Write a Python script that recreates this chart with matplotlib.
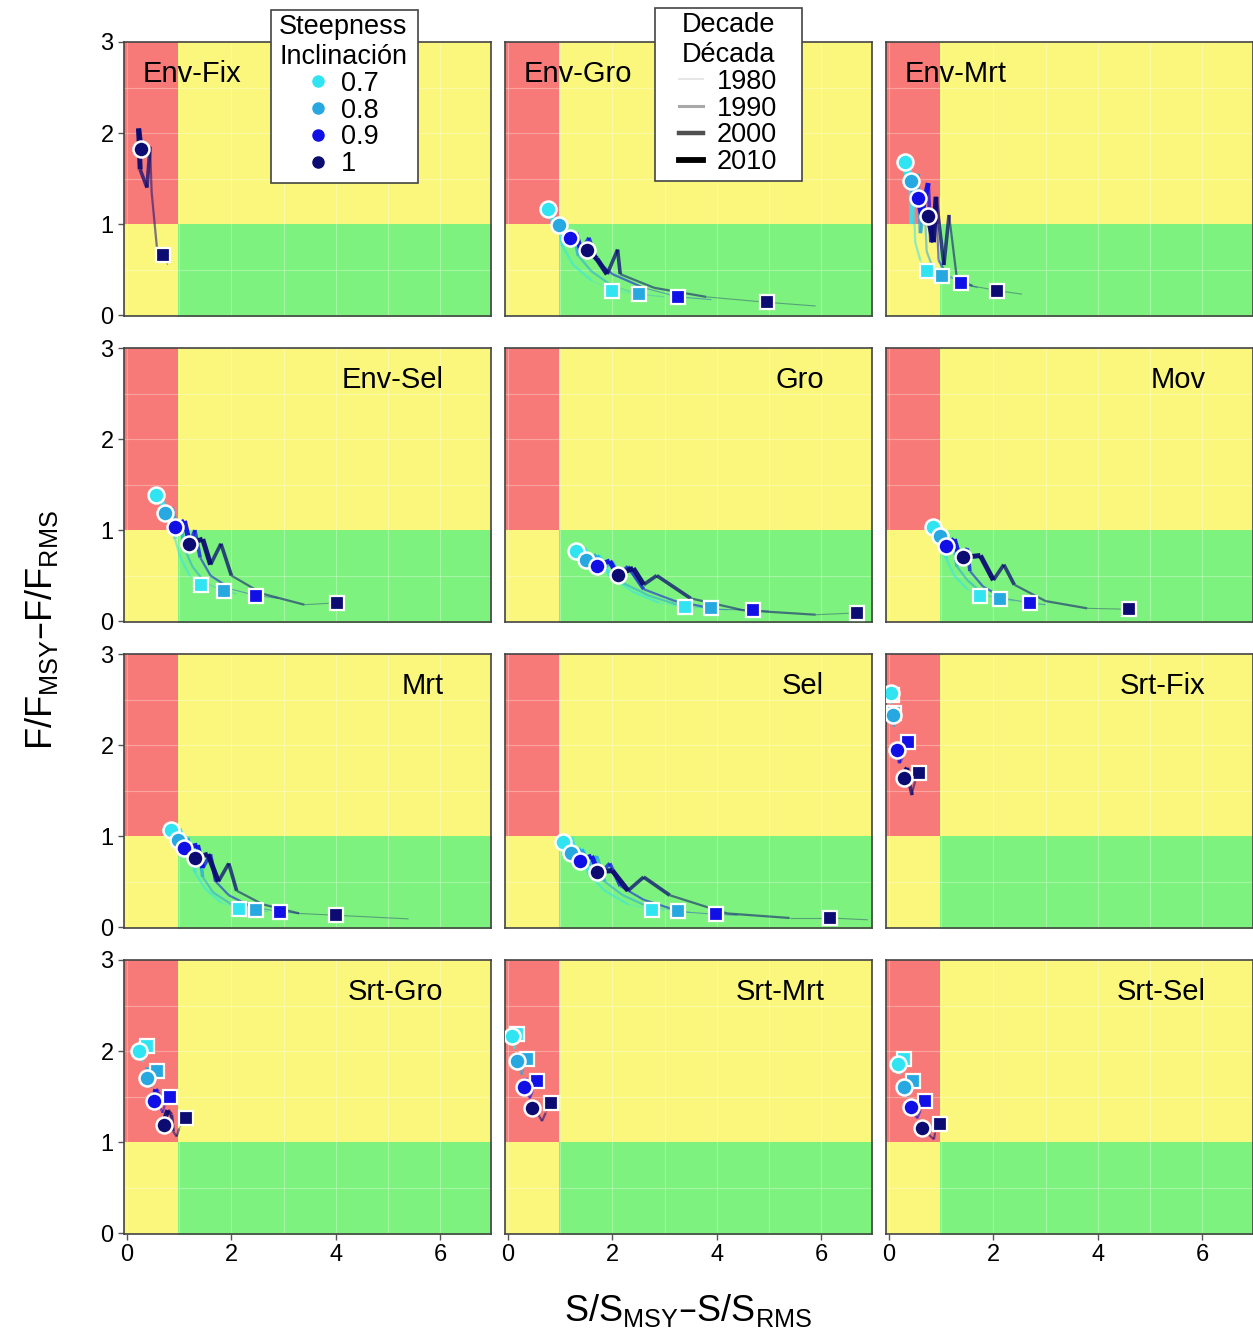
import matplotlib
matplotlib.use("Agg")
import matplotlib.pyplot as plt
from matplotlib.lines import Line2D
from matplotlib.patches import Rectangle

plt.rcParams["font.family"] = ["Liberation Sans", "DejaVu Sans"]
plt.rcParams["mathtext.default"] = "regular"

# categories
panels = ["Env-Fix", "Env-Gro", "Env-Mrt",
          "Env-Sel", "Gro", "Mov",
          "Mrt", "Sel", "Srt-Fix",
          "Srt-Gro", "Srt-Mrt", "Srt-Sel"]
steepness = ["0.7", "0.8", "0.9", "1"]
steep_colors = ["#30E4F2", "#28A8E0", "#1010E6", "#0B0B72"]
decades = ["1980", "1990", "2000", "2010"]
# decade of each of the 8 segments of a trajectory
seg_decade = [0, 0, 1, 1, 2, 2, 3, 3]

# trajectories (S/Smsy, F/Fmsy), one list per steepness 0.7, 0.8, 0.9, 1
# point 1 = square, last point = circle
env_fix_x = [[], [], [], [0.78, 0.69, 0.57, 0.47, 0.44, 0.38, 0.25, 0.22, 0.27]]
env_fix_y = [[], [], [], [0.55, 0.66, 0.75, 1.35, 1.85, 1.40, 1.60, 2.05, 1.82]]

env_gro_x = [[2.4, 2.0, 1.6, 1.25, 1.05, 0.98, 0.88, 0.82, 0.76],
             [3.0, 2.51, 2.0, 1.6, 1.35, 1.25, 1.12, 1.05, 0.97],
             [3.9, 3.26, 2.6, 2.0, 1.7, 1.55, 1.4, 1.3, 1.18],
             [5.9, 4.97, 3.8, 2.8, 2.15, 2.1, 1.9, 1.7, 1.52]]
env_gro_y = [[0.24, 0.27, 0.38, 0.55, 0.75, 1.0, 0.95, 1.2, 1.16],
             [0.20, 0.23, 0.32, 0.48, 0.65, 0.9, 0.85, 1.05, 0.99],
             [0.17, 0.20, 0.30, 0.45, 0.60, 0.85, 0.70, 0.90, 0.85],
             [0.10, 0.14, 0.20, 0.30, 0.45, 0.72, 0.45, 0.62, 0.71]]

env_mrt_x = [[0.9, 0.72, 0.6, 0.5, 0.47, 0.42, 0.4, 0.34, 0.30],
             [1.25, 1.01, 0.85, 0.72, 0.68, 0.6, 0.55, 0.48, 0.42],
             [1.7, 1.37, 1.1, 0.95, 0.9, 0.8, 0.75, 0.62, 0.55],
             [2.55, 2.06, 1.6, 1.3, 1.15, 1.05, 0.9, 0.85, 0.74]]
env_mrt_y = [[0.45, 0.48, 0.6, 0.8, 1.3, 1.0, 1.7, 1.5, 1.68],
             [0.40, 0.43, 0.5, 0.7, 1.2, 0.9, 1.55, 1.3, 1.47],
             [0.30, 0.35, 0.45, 0.6, 1.2, 0.8, 1.45, 1.1, 1.29],
             [0.23, 0.27, 0.32, 0.4, 1.1, 0.55, 1.3, 0.8, 1.09]]

env_sel_x = [[1.6, 1.41, 1.2, 1.02, 0.92, 0.85, 0.78, 0.65, 0.55],
             [2.1, 1.85, 1.5, 1.25, 1.1, 1.02, 0.95, 0.85, 0.72],
             [2.9, 2.48, 2.0, 1.6, 1.4, 1.3, 1.2, 1.1, 0.91],
             [4.1, 4.02, 3.4, 2.6, 2.0, 1.8, 1.6, 1.45, 1.18]]
env_sel_y = [[0.37, 0.40, 0.5, 0.7, 0.9, 1.2, 1.1, 1.35, 1.39],
             [0.30, 0.33, 0.42, 0.6, 0.8, 1.1, 1.0, 1.25, 1.19],
             [0.25, 0.28, 0.35, 0.5, 0.7, 1.0, 0.85, 1.1, 1.03],
             [0.19, 0.20, 0.18, 0.3, 0.5, 0.85, 0.62, 0.9, 0.85]]

gro_x = [[3.6, 3.39, 2.9, 2.4, 1.95, 1.75, 1.6, 1.45, 1.31],
         [4.2, 3.89, 3.3, 2.7, 2.2, 2.0, 1.8, 1.7, 1.50],
         [5.0, 4.69, 4.0, 3.2, 2.6, 2.3, 2.1, 1.95, 1.71],
         [6.75, 6.70, 5.9, 4.5, 3.5, 2.85, 2.6, 2.4, 2.10]]
gro_y = [[0.14, 0.15, 0.2, 0.32, 0.5, 0.72, 0.65, 0.8, 0.77],
         [0.12, 0.14, 0.17, 0.28, 0.42, 0.65, 0.57, 0.72, 0.67],
         [0.11, 0.12, 0.13, 0.22, 0.35, 0.6, 0.5, 0.66, 0.61],
         [0.08, 0.09, 0.07, 0.12, 0.25, 0.5, 0.4, 0.58, 0.51]]

mov_x = [[1.95, 1.75, 1.5, 1.25, 1.1, 1.05, 0.98, 0.9, 0.84],
         [2.4, 2.13, 1.8, 1.5, 1.3, 1.25, 1.15, 1.05, 0.97],
         [3.0, 2.70, 2.2, 1.8, 1.55, 1.5, 1.35, 1.25, 1.10],
         [4.7, 4.61, 3.8, 3.0, 2.4, 2.2, 2.0, 1.75, 1.41]]
mov_y = [[0.26, 0.28, 0.35, 0.5, 0.68, 0.9, 0.85, 1.05, 1.03],
         [0.22, 0.24, 0.3, 0.45, 0.6, 0.85, 0.8, 0.98, 0.94],
         [0.18, 0.20, 0.25, 0.38, 0.55, 0.8, 0.7, 0.9, 0.83],
         [0.12, 0.13, 0.14, 0.22, 0.4, 0.62, 0.45, 0.72, 0.70]]

mrt_x = [[2.35, 2.15, 1.8, 1.5, 1.3, 1.25, 1.12, 1.0, 0.84],
         [2.7, 2.48, 2.0, 1.65, 1.45, 1.38, 1.25, 1.15, 0.97],
         [3.3, 2.93, 2.4, 1.95, 1.7, 1.6, 1.45, 1.35, 1.10],
         [5.4, 4.0, 3.3, 2.6, 2.1, 1.95, 1.75, 1.55, 1.30]]
mrt_y = [[0.18, 0.20, 0.27, 0.42, 0.6, 0.9, 0.85, 1.08, 1.07],
         [0.17, 0.19, 0.25, 0.38, 0.55, 0.85, 0.75, 0.98, 0.96],
         [0.15, 0.17, 0.22, 0.35, 0.5, 0.8, 0.65, 0.9, 0.87],
         [0.09, 0.13, 0.15, 0.25, 0.4, 0.7, 0.5, 0.8, 0.76]]

sel_x = [[3.0, 2.76, 2.3, 1.85, 1.55, 1.45, 1.3, 1.2, 1.05],
         [3.5, 3.26, 2.7, 2.2, 1.85, 1.7, 1.55, 1.4, 1.20],
         [4.4, 3.98, 3.3, 2.6, 2.15, 1.95, 1.75, 1.6, 1.37],
         [6.9, 6.17, 5.4, 4.2, 3.1, 2.6, 2.3, 2.0, 1.71]]
sel_y = [[0.18, 0.19, 0.25, 0.4, 0.58, 0.85, 0.8, 0.98, 0.93],
         [0.16, 0.18, 0.22, 0.35, 0.5, 0.78, 0.68, 0.85, 0.81],
         [0.13, 0.14, 0.17, 0.3, 0.45, 0.7, 0.58, 0.78, 0.73],
         [0.08, 0.10, 0.10, 0.15, 0.35, 0.55, 0.4, 0.62, 0.61]]

srt_fix_x = [[0.08, 0.06, 0.05, 0.04, 0.05, 0.06, 0.05, 0.04, 0.04],
             [0.12, 0.10, 0.10, 0.09, 0.1, 0.1, 0.09, 0.08, 0.08],
             [0.38, 0.36, 0.3, 0.25, 0.2, 0.18, 0.17, 0.15, 0.15],
             [0.6, 0.57, 0.5, 0.45, 0.44, 0.4, 0.35, 0.3, 0.29]]
srt_fix_y = [[2.52, 2.55, 2.5, 2.45, 2.5, 2.58, 2.6, 2.55, 2.57],
             [2.32, 2.35, 2.28, 2.2, 2.25, 2.35, 2.38, 2.33, 2.33],
             [2.0, 2.03, 1.95, 1.85, 1.8, 1.9, 2.0, 1.98, 1.94],
             [1.66, 1.69, 1.6, 1.5, 1.45, 1.55, 1.75, 1.7, 1.64]]

srt_gro_x = [[0.4, 0.38, 0.33, 0.3, 0.27, 0.27, 0.25, 0.23, 0.23],
             [0.6, 0.57, 0.5, 0.46, 0.42, 0.42, 0.4, 0.38, 0.38],
             [0.85, 0.82, 0.72, 0.68, 0.62, 0.6, 0.55, 0.52, 0.51],
             [1.15, 1.12, 1.0, 0.95, 0.88, 0.85, 0.78, 0.72, 0.70]]
srt_gro_y = [[2.03, 2.06, 1.96, 1.88, 1.94, 2.07, 2.1, 2.04, 2.0],
             [1.75, 1.78, 1.68, 1.6, 1.66, 1.8, 1.82, 1.75, 1.70],
             [1.47, 1.50, 1.4, 1.32, 1.4, 1.55, 1.58, 1.5, 1.45],
             [1.22, 1.26, 1.15, 1.06, 1.12, 1.3, 1.35, 1.25, 1.19]]

srt_mrt_x = [[0.19, 0.17, 0.14, 0.12, 0.1, 0.1, 0.09, 0.08, 0.08],
             [0.38, 0.36, 0.3, 0.26, 0.22, 0.21, 0.19, 0.17, 0.17],
             [0.58, 0.55, 0.47, 0.42, 0.37, 0.36, 0.33, 0.31, 0.30],
             [0.85, 0.82, 0.72, 0.65, 0.58, 0.56, 0.5, 0.47, 0.46]]
srt_mrt_y = [[2.16, 2.19, 2.1, 2.02, 2.08, 2.2, 2.24, 2.2, 2.17],
             [1.88, 1.91, 1.82, 1.74, 1.8, 1.92, 1.95, 1.92, 1.89],
             [1.64, 1.67, 1.56, 1.48, 1.54, 1.66, 1.7, 1.64, 1.61],
             [1.40, 1.43, 1.32, 1.23, 1.3, 1.42, 1.45, 1.4, 1.37]]

srt_sel_x = [[0.31, 0.29, 0.24, 0.21, 0.19, 0.19, 0.18, 0.17, 0.17],
             [0.49, 0.46, 0.4, 0.36, 0.32, 0.31, 0.3, 0.29, 0.29],
             [0.72, 0.69, 0.6, 0.54, 0.48, 0.46, 0.44, 0.42, 0.42],
             [1.0, 0.97, 0.88, 0.86, 0.76, 0.72, 0.67, 0.64, 0.63]]
srt_sel_y = [[1.88, 1.91, 1.82, 1.74, 1.8, 1.9, 1.92, 1.88, 1.86],
             [1.64, 1.67, 1.57, 1.5, 1.55, 1.65, 1.67, 1.63, 1.61],
             [1.42, 1.45, 1.34, 1.26, 1.32, 1.42, 1.44, 1.4, 1.38],
             [1.17, 1.20, 1.1, 1.03, 1.08, 1.18, 1.2, 1.17, 1.15]]

traj = {
    "Env-Fix": (env_fix_x, env_fix_y), "Env-Gro": (env_gro_x, env_gro_y),
    "Env-Mrt": (env_mrt_x, env_mrt_y), "Env-Sel": (env_sel_x, env_sel_y),
    "Gro": (gro_x, gro_y), "Mov": (mov_x, mov_y), "Mrt": (mrt_x, mrt_y),
    "Sel": (sel_x, sel_y), "Srt-Fix": (srt_fix_x, srt_fix_y),
    "Srt-Gro": (srt_gro_x, srt_gro_y), "Srt-Mrt": (srt_mrt_x, srt_mrt_y),
    "Srt-Sel": (srt_sel_x, srt_sel_y),
}

dec_width = [0.8, 1.6, 2.6, 3.6]
dec_alpha = [0.35, 0.55, 0.75, 0.95]
dec_gray = ["#e6e6e6", "#a8a8a8", "#505050", "#000000"]

RED, YEL, GRN = "#F87A78", "#FAF77C", "#7EF27E"

W, H = 1253, 1340
fig = plt.figure(figsize=(W / 100, H / 100), dpi=100)

col_left = [124, 505, 886]
row_top = [42, 348, 654, 960]
pw, ph = 367, 274

for i, name in enumerate(panels):
    r, c = divmod(i, 3)
    ax = fig.add_axes([col_left[c] / W, 1 - (row_top[r] + ph) / H, pw / W, ph / H])
    ax.set_xlim(-0.06, 6.98)
    ax.set_ylim(-0.01, 3.0)
    # stock status zones
    ax.axvspan(-1, 8, color=YEL, lw=0, zorder=0)
    ax.fill_between([-1, 0.97], 1, 4, color=RED, lw=0, zorder=0.5)
    ax.fill_between([0.97, 8], -1, 1, color=GRN, lw=0, zorder=0.5)
    for gx in range(0, 8):
        ax.axvline(gx, color="white", lw=0.8, alpha=0.3, zorder=0.8)
    for gy in [0.5, 1.5, 2.0, 2.5]:
        ax.axhline(gy, color="white", lw=0.8, alpha=0.3, zorder=0.8)

    xs, ys = traj[name]
    for k in range(4):
        if not xs[k]:
            continue
        for s in range(len(xs[k]) - 1):
            d = seg_decade[s]
            ax.plot(xs[k][s:s + 2], ys[k][s:s + 2], color=steep_colors[k],
                    lw=dec_width[d], alpha=dec_alpha[d], solid_capstyle="butt", zorder=2)
    for k in range(4):
        if not xs[k]:
            continue
        ax.plot(xs[k][1], ys[k][1], "s", ms=10, mfc=steep_colors[k], mec="white",
                mew=1.6, zorder=3)
        ax.plot(xs[k][-1], ys[k][-1], "o", ms=11.5, mfc=steep_colors[k], mec="white",
                mew=1.8, zorder=4)

    if r == 0:
        ax.text(0.052, 0.885, name, transform=ax.transAxes, fontsize=21,
                ha="left", va="center", zorder=5)
    else:
        ax.text(0.87, 0.885, name, transform=ax.transAxes, fontsize=21,
                ha="right", va="center", zorder=5)

    ax.set_xticks([0, 2, 4, 6])
    ax.set_yticks([0, 1, 2, 3])
    ax.tick_params(labelsize=17, color="#555555", length=4, width=1)
    if c != 0:
        ax.tick_params(axis="y", left=False, labelleft=False)
    if r != 3:
        ax.tick_params(axis="x", bottom=False, labelbottom=False)
    for sp in ax.spines.values():
        sp.set_color("#444444")
        sp.set_linewidth(1.2)

fig.text(0.033, 0.53, r"F/F$_{MSY}$–F/F$_{RMS}$", rotation=90, fontsize=26,
         ha="center", va="center")
fig.text(0.549, 0.022, r"S/S$_{MSY}$–S/S$_{RMS}$", fontsize=26,
         ha="center", va="center")


def legend_box(x0, y0, x1, y1):
    fig.patches.append(Rectangle((x0 / W, 1 - y1 / H), (x1 - x0) / W, (y1 - y0) / H,
                                 transform=fig.transFigure, facecolor="white",
                                 edgecolor="#444444", lw=1.2, zorder=10))


legend_box(271, 10, 418, 183)
legend_box(655, 8, 802, 181)

steep_handles = [Line2D([], [], ls="none", marker="o", ms=8, mfc=col, mec=col)
                 for col in steep_colors]
leg1 = fig.legend(steep_handles, steepness, title="Steepness\nInclinación",
                  loc="upper left", bbox_to_anchor=(279 / W, 1 - 14 / H),
                  fontsize=19.5, title_fontsize=19.5, frameon=False,
                  borderpad=0.0, labelspacing=0.03, handlelength=0.8,
                  handletextpad=0.45, borderaxespad=0)
leg1.set_zorder(11)

dec_handles = [Line2D([], [], color=dec_gray[d], lw=dec_width[d] + 0.6)
               for d in range(4)]
leg2 = fig.legend(dec_handles, decades, title="Decade\nDécada",
                  loc="upper left", bbox_to_anchor=(679 / W, 1 - 12 / H),
                  fontsize=19.5, title_fontsize=19.5, frameon=False,
                  borderpad=0.0, labelspacing=0.03, handlelength=0.9,
                  handletextpad=0.5, borderaxespad=0)
leg2.set_zorder(11)

fig.savefig("out.png", dpi=100)
